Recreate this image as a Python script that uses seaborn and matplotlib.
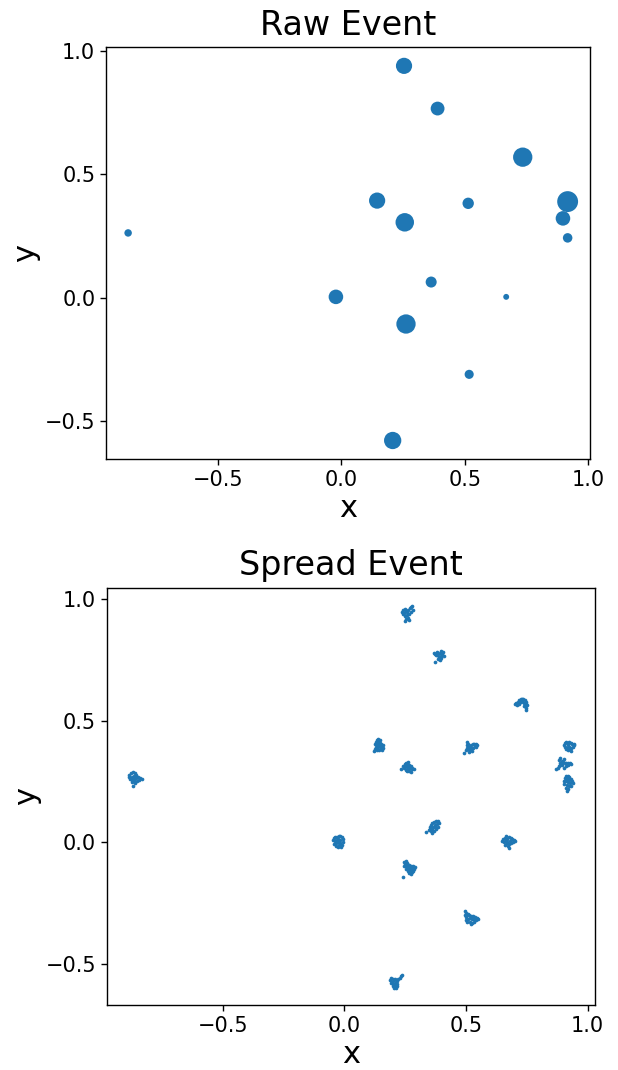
import matplotlib
matplotlib.use("Agg")
import matplotlib.pyplot as plt
import seaborn as sns
import pandas as pd

# ---------------- Raw event ----------------
raw_x = [0.254, 0.390, 0.735, 0.145, 0.514, 0.917, 0.898, 0.917,
         0.257, -0.864, 0.364, -0.022, 0.668, 0.262, 0.518, 0.208]
raw_y = [0.940, 0.767, 0.570, 0.394, 0.383, 0.390, 0.322, 0.243,
         0.306, 0.263, 0.064, 0.004, 0.004, -0.106, -0.310, -0.578]
raw_energy = [136, 99, 193, 136, 67, 226, 110, 47,
              177, 29, 63, 110, 18, 193, 43, 155]

# ---------------- Spread event (one list per cluster) ----------------
c01_x = [0.236, 0.240, 0.245, 0.248, 0.252, 0.258, 0.262, 0.268, 0.274, 0.280, 0.283, 0.272, 0.265, 0.256, 0.248, 0.252, 0.260, 0.266, 0.250, 0.242]
c01_y = [0.948, 0.955, 0.943, 0.958, 0.951, 0.945, 0.955, 0.961, 0.965, 0.971, 0.953, 0.948, 0.938, 0.933, 0.928, 0.918, 0.923, 0.915, 0.911, 0.936]
c02_x = [0.368, 0.374, 0.380, 0.386, 0.392, 0.398, 0.404, 0.402, 0.396, 0.388, 0.382, 0.376, 0.392, 0.398, 0.386, 0.394, 0.408, 0.372]
c02_y = [0.778, 0.775, 0.781, 0.773, 0.779, 0.787, 0.783, 0.773, 0.767, 0.763, 0.768, 0.771, 0.755, 0.759, 0.753, 0.748, 0.765, 0.739]
c03_x = [0.701, 0.707, 0.712, 0.718, 0.724, 0.730, 0.736, 0.742, 0.748, 0.746, 0.740, 0.732, 0.724, 0.716, 0.710, 0.744, 0.748, 0.745, 0.738, 0.752]
c03_y = [0.567, 0.572, 0.578, 0.584, 0.588, 0.590, 0.588, 0.584, 0.578, 0.570, 0.574, 0.580, 0.578, 0.570, 0.564, 0.560, 0.552, 0.544, 0.562, 0.564]
c04_x = [0.134, 0.140, 0.146, 0.130, 0.138, 0.146, 0.152, 0.128, 0.136, 0.144, 0.152, 0.160, 0.132, 0.140, 0.150, 0.160, 0.126, 0.134, 0.144, 0.156, 0.122]
c04_y = [0.422, 0.426, 0.420, 0.412, 0.414, 0.410, 0.406, 0.402, 0.404, 0.400, 0.396, 0.398, 0.392, 0.390, 0.386, 0.388, 0.382, 0.378, 0.380, 0.378, 0.376]
c05_x = [0.492, 0.500, 0.504, 0.502, 0.504, 0.510, 0.512, 0.516, 0.522, 0.520, 0.528, 0.534, 0.540, 0.546, 0.536, 0.530, 0.524, 0.514, 0.508, 0.540]
c05_y = [0.369, 0.378, 0.388, 0.400, 0.412, 0.404, 0.392, 0.380, 0.386, 0.398, 0.402, 0.406, 0.402, 0.400, 0.394, 0.388, 0.376, 0.372, 0.382, 0.392]
c06_x = [0.902, 0.906, 0.912, 0.918, 0.924, 0.930, 0.936, 0.942, 0.938, 0.930, 0.922, 0.914, 0.906, 0.910, 0.918, 0.926, 0.932, 0.920, 0.944]
c06_y = [0.401, 0.408, 0.412, 0.410, 0.412, 0.408, 0.402, 0.398, 0.390, 0.386, 0.390, 0.388, 0.392, 0.382, 0.380, 0.382, 0.374, 0.398, 0.404]
c07_x = [0.870, 0.876, 0.882, 0.888, 0.886, 0.884, 0.888, 0.894, 0.900, 0.906, 0.912, 0.918, 0.926, 0.930, 0.920, 0.910, 0.902, 0.896, 0.904, 0.894]
c07_y = [0.302, 0.307, 0.312, 0.317, 0.328, 0.339, 0.346, 0.336, 0.330, 0.326, 0.324, 0.328, 0.326, 0.320, 0.318, 0.312, 0.306, 0.316, 0.342, 0.324]
c08_x = [0.912, 0.918, 0.924, 0.906, 0.914, 0.922, 0.930, 0.936, 0.902, 0.910, 0.918, 0.928, 0.938, 0.904, 0.914, 0.924, 0.932, 0.912, 0.920, 0.916]
c08_y = [0.272, 0.274, 0.268, 0.264, 0.262, 0.258, 0.260, 0.254, 0.252, 0.250, 0.246, 0.244, 0.242, 0.240, 0.234, 0.232, 0.230, 0.222, 0.218, 0.212]
c09_x = [0.231, 0.242, 0.248, 0.254, 0.262, 0.250, 0.258, 0.266, 0.272, 0.280, 0.286, 0.276, 0.268, 0.260, 0.252, 0.246, 0.256, 0.266, 0.274, 0.262]
c09_y = [0.302, 0.312, 0.320, 0.326, 0.332, 0.308, 0.316, 0.318, 0.312, 0.306, 0.300, 0.300, 0.304, 0.302, 0.298, 0.304, 0.292, 0.292, 0.290, 0.310]
c10_x = [-0.886, -0.884, -0.878, -0.870, -0.862, -0.858, -0.866, -0.874, -0.882, -0.874, -0.866, -0.856, -0.848, -0.838, -0.832, -0.844, -0.854, -0.864, -0.872, -0.862, -0.870]
c10_y = [0.268, 0.278, 0.284, 0.288, 0.284, 0.276, 0.274, 0.270, 0.260, 0.258, 0.262, 0.266, 0.268, 0.264, 0.262, 0.258, 0.254, 0.250, 0.246, 0.244, 0.232]
c11_x = [0.337, 0.346, 0.350, 0.356, 0.362, 0.368, 0.376, 0.384, 0.388, 0.380, 0.372, 0.366, 0.360, 0.356, 0.362, 0.370, 0.378, 0.386, 0.374, 0.352]
c11_y = [0.042, 0.052, 0.062, 0.070, 0.078, 0.084, 0.088, 0.086, 0.078, 0.076, 0.070, 0.062, 0.054, 0.046, 0.040, 0.048, 0.056, 0.064, 0.064, 0.056]
c12_x = [-0.046, -0.044, -0.038, -0.030, -0.022, -0.016, -0.010, -0.004, -0.040, -0.032, -0.024, -0.016, -0.006, -0.042, -0.034, -0.026, -0.018, -0.008, -0.036, -0.028, -0.012, -0.020]
c12_y = [0.008, 0.018, 0.024, 0.022, 0.026, 0.028, 0.020, 0.012, 0.004, 0.010, 0.014, 0.010, 0.002, -0.006, -0.002, 0.002, -0.004, -0.010, -0.014, -0.020, -0.018, -0.012]
c13_x = [0.648, 0.654, 0.656, 0.662, 0.666, 0.664, 0.670, 0.676, 0.684, 0.690, 0.696, 0.700, 0.692, 0.684, 0.676, 0.668, 0.662, 0.672, 0.676, 0.682, 0.670]
c13_y = [0.006, 0.012, 0.000, 0.018, 0.028, 0.008, 0.014, 0.020, 0.018, 0.012, 0.010, 0.004, 0.000, -0.004, -0.006, -0.004, -0.010, -0.014, -0.022, 0.006, 0.002]
c14_x = [0.243, 0.246, 0.252, 0.250, 0.256, 0.244, 0.252, 0.260, 0.266, 0.274, 0.282, 0.290, 0.286, 0.278, 0.270, 0.262, 0.254, 0.260, 0.268, 0.276, 0.284, 0.264, 0.272]
c14_y = [-0.141, -0.080, -0.078, -0.088, -0.086, -0.096, -0.098, -0.094, -0.092, -0.096, -0.098, -0.102, -0.110, -0.108, -0.106, -0.104, -0.108, -0.116, -0.118, -0.120, -0.118, -0.126, -0.128]
c15_x = [0.496, 0.500, 0.494, 0.498, 0.504, 0.508, 0.514, 0.520, 0.528, 0.536, 0.544, 0.548, 0.540, 0.532, 0.524, 0.516, 0.508, 0.500, 0.506, 0.516, 0.526, 0.534, 0.520]
c15_y = [-0.282, -0.290, -0.298, -0.308, -0.300, -0.294, -0.298, -0.302, -0.304, -0.306, -0.310, -0.316, -0.318, -0.316, -0.314, -0.312, -0.316, -0.320, -0.326, -0.326, -0.330, -0.328, -0.334]
c16_x = [0.188, 0.192, 0.190, 0.198, 0.204, 0.210, 0.216, 0.222, 0.228, 0.234, 0.238, 0.196, 0.202, 0.210, 0.218, 0.200, 0.208, 0.216, 0.206, 0.212]
c16_y = [-0.564, -0.576, -0.556, -0.560, -0.566, -0.562, -0.568, -0.562, -0.556, -0.550, -0.546, -0.572, -0.580, -0.576, -0.580, -0.590, -0.592, -0.590, -0.600, -0.598]

spread_x = (c01_x + c02_x + c03_x + c04_x + c05_x + c06_x + c07_x + c08_x +
            c09_x + c10_x + c11_x + c12_x + c13_x + c14_x + c15_x + c16_x)
spread_y = (c01_y + c02_y + c03_y + c04_y + c05_y + c06_y + c07_y + c08_y +
            c09_y + c10_y + c11_y + c12_y + c13_y + c14_y + c15_y + c16_y)

raw_df = pd.DataFrame({"x": raw_x, "y": raw_y, "energy": raw_energy})
spread_df = pd.DataFrame({"x": spread_x, "y": spread_y})

plt.rcParams["font.family"] = ["DejaVu Sans"]
W, H = 618, 1070
fig = plt.figure(figsize=(W / 100, H / 100), dpi=100)

def px_axes(left, top, right, bottom):
    return fig.add_axes([left / W, 1 - bottom / H, (right - left) / W, (bottom - top) / H])

ax1 = px_axes(106.4, 47.1, 590.1, 459.0)
ax2 = px_axes(107.3, 587.7, 595.0, 1005.0)

emin, emax = min(raw_energy), max(raw_energy)
sns.scatterplot(data=raw_df, x="x", y="y", size="energy", sizes=(emin, emax),
                size_norm=(emin, emax), color="#1f77b4", legend=False,
                linewidth=0, ax=ax1)
sns.scatterplot(data=spread_df, x="x", y="y", s=7, color="#1f77b4",
                linewidth=0, legend=False, ax=ax2)

ax1.set_xlim(-0.952, 1.008)
ax1.set_ylim(-0.653, 1.016)
ax2.set_xlim(-0.974, 1.030)
ax2.set_ylim(-0.668, 1.046)

for ax, title in [(ax1, "Raw Event"), (ax2, "Spread Event")]:
    ax.set_title(title, fontsize=24, pad=9)
    ax.set_xlabel("x", fontsize=22, labelpad=3)
    ax.set_ylabel("y", fontsize=22, labelpad=3)
    ax.set_xticks([-0.5, 0.0, 0.5, 1.0])
    ax.set_yticks([-0.5, 0.0, 0.5, 1.0])
    ax.tick_params(labelsize=15, length=4.5, width=1)
    for sp in ax.spines.values():
        sp.set_linewidth(1)

fig.savefig("out.png", dpi=100)
